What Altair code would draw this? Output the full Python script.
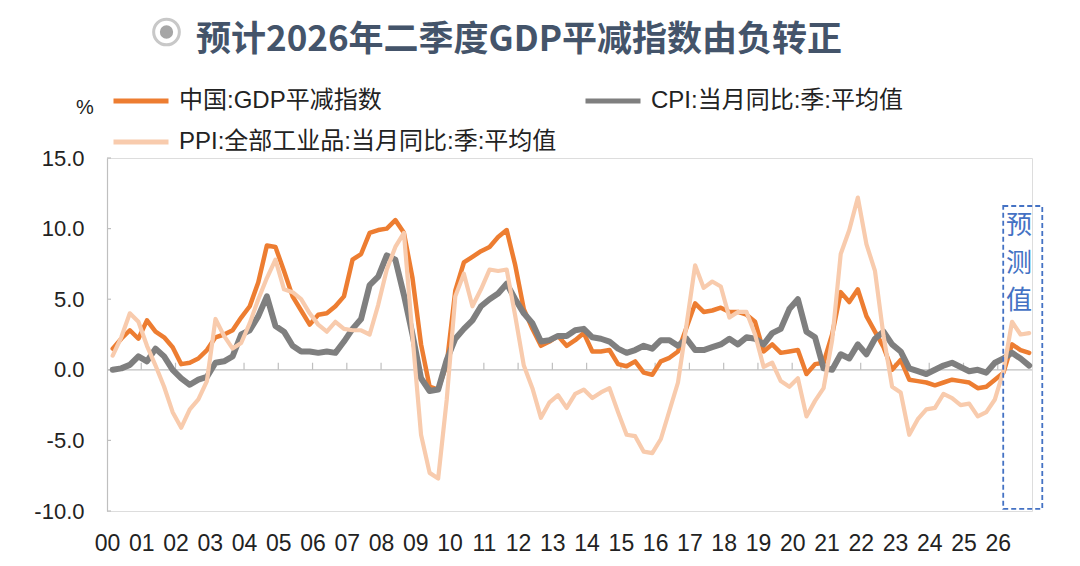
import altair as alt
import pandas as pd

# ---------------- data (quarterly, 2000Q1 .. 2026Q4) ----------------
years = list(range(2000, 2027))
quarters = [1, 2, 3, 4]

gdp_deflator = [
    1.5, 2.2, 2.8, 2.2,   3.5, 2.7, 2.3, 1.6,   0.4, 0.5, 0.8, 1.4,   2.3, 2.5, 2.8, 3.7,
    4.5, 6.2, 8.8, 8.7,   7.0, 5.2, 4.2, 3.2,   3.9, 4.0, 4.5, 5.2,   7.8, 8.2, 9.7, 9.9,
    10.0, 10.6, 9.7, 6.5, 1.8, -1.2, -1.4, 0.4, 5.6, 7.6, 8.0, 8.4,   8.7, 9.4, 9.9, 7.4,
    4.3, 2.9, 1.7, 2.0,   2.4, 1.7, 2.1, 2.6,   1.3, 1.3, 1.4, 0.4,   0.25, 0.6, -0.2, -0.35,
    0.6, 0.85, 1.3, 3.0,  4.7, 4.1, 4.2, 4.4,   4.1, 4.1, 3.9, 3.4,   1.3, 1.8, 1.2, 1.3,
    1.4, -0.3, 0.4, 0.5,  2.5, 5.5, 4.8, 5.7,   3.8, 2.7, 1.6, 0.0,   0.7, -0.7, -0.8, -0.9,
    -1.1, -0.9, -0.7, -0.8, -0.9, -1.3, -1.2, -0.7, -0.2, 1.8, 1.4, 1.2,
]
cpi = [
    0.0, 0.1, 0.35, 0.95, 0.6, 1.5, 0.95, 0.0,  -0.6, -1.06, -0.7, -0.5, 0.5, 0.6, 0.95, 2.5,
    2.8, 3.8, 5.2, 3.1,   2.7, 1.7, 1.3, 1.3,   1.2, 1.3, 1.2, 2.0,   2.9, 3.6, 6.0, 6.6,
    8.1, 7.8, 5.3, 2.5,   -0.6, -1.5, -1.4, 0.7, 2.2, 2.9, 3.5, 4.5,  5.0, 5.4, 6.1, 5.0,
    4.0, 3.3, 2.0, 2.1,   2.4, 2.4, 2.8, 2.9,   2.3, 2.2, 2.0, 1.5,   1.2, 1.4, 1.7, 1.5,
    2.1, 2.1, 1.7, 2.2,   1.4, 1.4, 1.6, 1.8,   2.2, 1.8, 2.3, 2.2,   1.8, 2.6, 2.9, 4.3,
    5.0, 2.7, 2.3, 0.1,   0.0, 1.1, 0.8, 1.8,   1.1, 2.2, 2.7, 1.8,   1.3, 0.1, -0.1, -0.3,
    0.0, 0.3, 0.5, 0.2,   -0.1, 0.0, -0.2, 0.5, 0.8, 1.2, 0.8, 0.3,
]
ppi = [
    1.0, 2.3, 4.0, 3.4,   1.7, 0.3, -1.2, -3.0, -4.1, -2.8, -2.1, -0.8, 3.6, 2.4, 1.5, 1.9,
    3.3, 5.0, 6.5, 7.8,   5.7, 5.5, 5.0, 4.0,   3.2, 2.7, 3.4, 2.9,   2.8, 2.8, 2.5, 4.6,
    7.1, 8.7, 9.7, 2.4,   -4.6, -7.3, -7.7, -2.1, 5.2, 6.8, 4.5, 5.7, 7.1, 7.0, 7.1, 3.8,
    0.3, -1.3, -3.4, -2.3, -1.8, -2.7, -1.7, -1.4, -2.0, -1.6, -1.3, -3.0, -4.6, -4.7, -5.8, -5.9,
    -4.9, -2.9, -0.9, 3.2, 7.4, 5.8, 6.25, 5.9,  3.7, 4.1, 4.1, 2.5,   0.2, 0.5, -0.8, -1.2,
    -0.6, -3.3, -2.2, -1.3, 2.1, 8.2, 9.9, 12.2, 8.9, 7.0, 2.4, -1.2,  -1.6, -4.6, -3.5, -2.8,
    -2.7, -1.7, -2.0, -2.5, -2.4, -3.3, -3.0, -2.1, -0.1, 3.4, 2.5, 2.6,
]

series_names = ["中国:GDP平减指数", "CPI:当月同比:季:平均值", "PPI:全部工业品:当月同比:季:平均值"]
series_colors = ["#ED7D31", "#7F7F7F", "#F8CBAD"]
year_labels = list(range(0, 27))          # 00 .. 26
y_ticks = [-10, -5, 0, 5, 10, 15]
title_text = "预计2026年二季度GDP平减指数由负转正"
forecast_label = "预\n测\n值"
forecast_span = {"t": 26.16, "t2": 27.3, "v": 11.6, "v2": -9.85}

# quarter position on a year axis (quarter-end month)
t_vals = [(y - 2000) + (3 * q - 1) / 12 for y in years for q in quarters]

rows = []
for name, vals in zip(series_names, [gdp_deflator, cpi, ppi]):
    for t, v in zip(t_vals, vals):
        rows.append({"t": t, "v": v, "series": name})
df = pd.DataFrame(rows)

FONT = "Liberation Sans, Noto Sans CJK SC"

x_enc = alt.X(
    "t:Q",
    scale=alt.Scale(domain=[0, 27], nice=False, zero=False),
    axis=alt.Axis(
        values=year_labels,
        labelExpr="datum.value < 10 ? '0' + datum.value : '' + datum.value",
        domain=False, ticks=False, grid=False, labelPadding=21,
        labelFontSize=23, labelColor="#222222", labelFont=FONT, title=None,
        labelFlush=False, labelOverlap=False,
    ),
)
y_enc = alt.Y(
    "v:Q",
    scale=alt.Scale(domain=[-10, 15], nice=False, zero=False),
    axis=alt.Axis(
        values=y_ticks,
        labelExpr="(datum.value < 0 ? '-' : '') + format(abs(datum.value), '.1f')",
        domainColor="#BFBFBF", domainWidth=1.2,
        ticks=False, grid=False, labelPadding=23, labelFontSize=22,
        labelColor="#222222", labelFont=FONT, title=None,
    ),
)
color_enc = alt.Color(
    "series:N",
    scale=alt.Scale(domain=series_names, range=series_colors),
    legend=alt.Legend(
        title=None, orient="none", legendX=22, legendY=-69, columns=2,
        direction="horizontal",
        columnPadding=18, rowPadding=17, symbolType="M-5,0H5", symbolSize=121,
        symbolStrokeWidth=5, labelOffset=26, labelFontSize=24, labelFont=FONT,
        labelColor="#222222", labelLimit=800,
    ),
)

base = alt.Chart(df)

zero_line = alt.Chart(pd.DataFrame({"v": [0]})).mark_rule(color="#BFBFBF", strokeWidth=1.2).encode(
    y=y_enc
)
tick_df = pd.DataFrame({"t": year_labels[1:], "v": [0] * 26, "v2": [0.5] * 26})
year_ticks = alt.Chart(tick_df).mark_rule(color="#BFBFBF", strokeWidth=1.2).encode(
    x=x_enc, y=y_enc, y2="v2:Q"
)
ytick_df = pd.DataFrame({"v": y_ticks})
y_inner_ticks = alt.Chart(ytick_df).mark_rule(color="#BFBFBF", strokeWidth=1.2).encode(
    y=y_enc, x=alt.value(0), x2=alt.value(4)
)

lines = []
for name, w in zip(series_names, [4.5, 6.0, 4.2]):
    lines.append(
        base.transform_filter(alt.datum.series == name)
        .mark_line(strokeWidth=w, strokeJoin="round", strokeCap="round")
        .encode(x=x_enc, y=y_enc, color=color_enc)
    )

box_df = pd.DataFrame([forecast_span])
box = alt.Chart(box_df).mark_rect(
    fillOpacity=0, stroke="#4472C4", strokeWidth=1.8, strokeDash=[5, 3]
).encode(x=x_enc, x2="t2:Q", y=y_enc, y2="v2:Q")
box_text = alt.Chart(pd.DataFrame({"s": [forecast_label], "t": [26.62], "v": [11.1]})).mark_text(
    fontSize=26, color="#4472C4", font="Noto Sans CJK SC", lineBreak="\n",
    lineHeight=37.5, baseline="top", align="center"
).encode(x=x_enc, y=y_enc, text="s:N")

title = alt.Chart(pd.DataFrame({"s": [title_text]})).mark_text(
    fontSize=35, fontWeight="bold", color="#44546A", font="Noto Sans CJK SC",
    align="left", baseline="middle"
).encode(text="s:N", x=alt.value(89), y=alt.value(-118))
icon_ring = alt.Chart(pd.DataFrame({"a": [0]})).mark_point(
    shape="circle", filled=False, stroke="#C8C8C8", strokeWidth=3, size=660, opacity=1
).encode(x=alt.value(59.5), y=alt.value(-126))
icon_dot = alt.Chart(pd.DataFrame({"a": [0]})).mark_point(
    shape="circle", filled=True, fill="#A6A6A6", size=177, opacity=1, strokeWidth=0
).encode(x=alt.value(59.5), y=alt.value(-126))
pct = alt.Chart(pd.DataFrame({"s": ["%"]})).mark_text(
    fontSize=20, color="#222222", font=FONT, align="center", baseline="middle"
).encode(text="s:N", x=alt.value(-22), y=alt.value(-50))

chart = alt.layer(
    zero_line, year_ticks, y_inner_ticks, *lines, box, box_text, title, icon_ring, icon_dot, pct
).properties(
    width=925, height=353,
    autosize=alt.AutoSizeParams(type="none"),
    padding={"left": 99, "top": 150, "right": 33, "bottom": 50},
).configure_view(stroke="transparent").configure(background="white")

chart.save("out.html", embed_options={"renderer": "svg", "actions": False})
